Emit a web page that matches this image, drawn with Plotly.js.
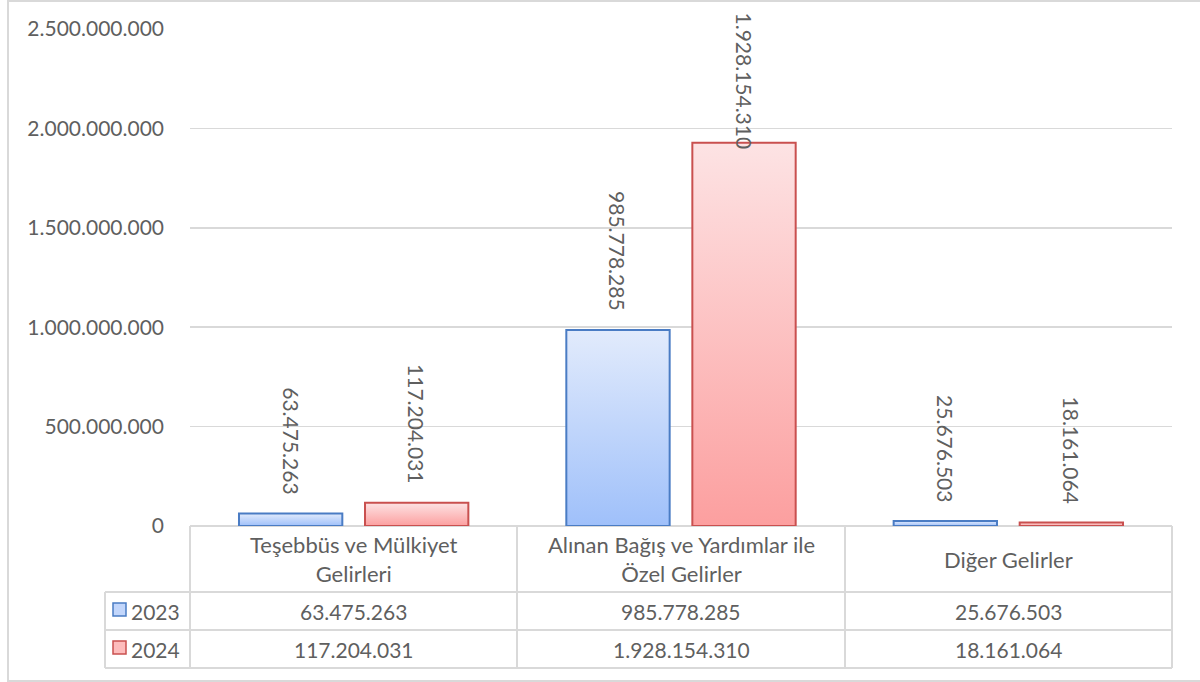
<!DOCTYPE html>
<html><head><meta charset="utf-8">
<script src="https://cdn.plot.ly/plotly-3.0.1.min.js"></script>
<style>html,body{margin:0;padding:0;background:#fff}#chart{width:1200px;height:682px}</style>
</head><body><div id="chart"></div>
<script>
// ---- data ----
const categories = ['Teşebbüs ve Mülkiyet Gelirleri', 'Alınan Bağış ve Yardımlar ile Özel Gelirler', 'Diğer Gelirler'];
const categoryLabels = ['Teşebbüs ve Mülkiyet<br>Gelirleri', 'Alınan Bağış ve Yardımlar ile<br>Özel Gelirler', 'Diğer Gelirler'];
const seriesNames = ['2023', '2024'];
const values2023 = [63475263, 985778285, 25676503];
const values2024 = [117204031, 1928154310, 18161064];
const yTickVals = [0, 500000000, 1000000000, 1500000000, 2000000000, 2500000000];

// ---- style ----
const FONT = 'Lato, "Noto Sans", sans-serif';
const FS = 21;
const TXT = '#5f5f5f';
const GRID = '#d9d9d9';
const W = 1200, H = 682;
const L = 190, R = 1172, T = 29, B = 526;
const px = x => (x - L) / (R - L);
const py = y => (B - y) / (B - T);
const yMax = 2500000000;

const fmt = v => String(v).replace(/\B(?=(\d{3})+(?!\d))/g, '.');
const idx = categories.map((c, i) => i);

const bargap = 0.23, bargroupgap = 0.18;
const half = (1 - bargap) / 4; // offset of each bar centre from category centre

const series = [
  {name: seriesNames[0], vals: values2023, line: '#4a7cc4', fill: '#c2d6fb', off: -half},
  {name: seriesNames[1], vals: values2024, line: '#c9504f', fill: '#fdbcbc', off: half}
];

const traces = series.map(s => ({
  type: 'bar', name: s.name, x: idx, y: s.vals,
  marker: {color: s.fill, line: {color: s.line, width: 2}},
  hoverinfo: 'skip'
}));

// measure label text length
const cv = document.createElement('canvas').getContext('2d');
cv.font = FS + 'px Lato';
const pxPerUnit = (B - T) / yMax;
const labelTopPx = 10; // top limit for labels
const gapPx = 17;

const annotations = [];
series.forEach(s => {
  s.vals.forEach((v, i) => {
    const t = fmt(v);
    const len = cv.measureText(t).width;
    const barTopPx = B - v * pxPerUnit;
    let a = {xref: 'x', x: i + s.off, text: t, textangle: 90, showarrow: false,
             font: {family: FONT, size: FS, color: TXT}, xanchor: 'center'};
    if (barTopPx - gapPx - len < labelTopPx) {
      Object.assign(a, {yref: 'paper', y: py(labelTopPx), yanchor: 'top'});
    } else {
      Object.assign(a, {yref: 'y', y: v, yanchor: 'bottom', yshift: gapPx});
    }
    annotations.push(a);
  });
});

// data table header
categoryLabels.forEach((c, i) => {
  annotations.push({xref: 'x', yref: 'paper', x: i, y: py(559), text: c, showarrow: false,
    font: {family: FONT, size: 22, color: TXT}, xanchor: 'center', yanchor: 'middle'});
});
// data table rows
const rowCenters = [611, 649];
series.forEach((s, r) => {
  annotations.push({xref: 'paper', yref: 'paper', x: px(129), y: py(rowCenters[r]), text: s.name,
    showarrow: false, font: {family: FONT, size: FS, color: TXT}, xanchor: 'left', yanchor: 'middle'});
  s.vals.forEach((v, i) => {
    annotations.push({xref: 'x', yref: 'paper', x: i, y: py(rowCenters[r]), text: fmt(v), showarrow: false,
      font: {family: FONT, size: FS, color: TXT}, xanchor: 'center', yanchor: 'middle'});
  });
});

const ln = (x0, y0, x1, y1) => ({type: 'line', xref: 'paper', yref: 'paper',
  x0: px(x0), x1: px(x1), y0: py(y0), y1: py(y1), line: {color: GRID, width: 2}, layer: 'above'});
const shapes = [
  // outer frame
  {type: 'rect', xref: 'paper', yref: 'paper', x0: px(8), x1: px(1205), y0: py(681), y1: py(1),
   line: {color: GRID, width: 2}, fillcolor: 'rgba(0,0,0,0)', layer: 'below'},
  ln(105, 592, R, 592), ln(105, 630, R, 630), ln(105, 668, R, 668),
  ln(105, 592, 105, 668), ln(L, B, L, 668), ln(R, B, R, 668),
  ln(517, B, 517, 668), ln(845, B, 845, 668),
  // legend keys
  {type: 'rect', xref: 'paper', yref: 'paper', x0: px(113), x1: px(126), y0: py(616), y1: py(603),
   line: {color: series[0].line, width: 1.5}, fillcolor: series[0].fill},
  {type: 'rect', xref: 'paper', yref: 'paper', x0: px(113), x1: px(126), y0: py(654), y1: py(641),
   line: {color: series[1].line, width: 1.5}, fillcolor: series[1].fill}
];

const layout = {
  width: W, height: H,
  margin: {l: L, r: W - R, t: T, b: H - B, pad: 0},
  paper_bgcolor: '#fff', plot_bgcolor: '#fff',
  separators: ',.',
  showlegend: false,
  barmode: 'group', bargap: bargap, bargroupgap: bargroupgap,
  font: {family: FONT, size: FS, color: TXT},
  xaxis: {range: [-0.5, 2.5], showticklabels: false, showgrid: false, zeroline: false,
          showline: false, ticks: '', fixedrange: true},
  yaxis: {range: [0, yMax], tickvals: yTickVals, tickformat: ',d', showgrid: true,
          gridcolor: GRID, gridwidth: 1.5, zeroline: true, zerolinecolor: GRID, zerolinewidth: 1.5,
          showline: false, ticks: '', ticklabelstandoff: 25,
          tickfont: {family: FONT, size: FS, color: TXT}, fixedrange: true},
  annotations: annotations,
  shapes: shapes
};

Plotly.newPlot('chart', traces, layout, {staticPlot: true, displayModeBar: false}).then(gd => {
  // vertical gradient fills, like the original chart
  const svg = gd.querySelector('.main-svg');
  let defs = svg.querySelector('defs');
  const NS = 'http://www.w3.org/2000/svg';
  const grads = [['g2023', '#e2ebfc', '#9fc0fa'], ['g2024', '#fde3e4', '#fc9f9f']];
  grads.forEach(([id, top, bot]) => {
    const g = document.createElementNS(NS, 'linearGradient');
    g.setAttribute('id', id); g.setAttribute('x1', '0'); g.setAttribute('y1', '0');
    g.setAttribute('x2', '0'); g.setAttribute('y2', '1');
    [[0, top], [1, bot]].forEach(([o, c]) => {
      const st = document.createElementNS(NS, 'stop');
      st.setAttribute('offset', o); st.setAttribute('stop-color', c);
      g.appendChild(st);
    });
    defs.appendChild(g);
  });
  gd.querySelectorAll('.barlayer .trace.bars').forEach((tr, k) => {
    tr.querySelectorAll('.point path').forEach(p => { p.style.fill = 'url(#' + grads[k][0] + ')'; });
  });
});
</script></body></html>
